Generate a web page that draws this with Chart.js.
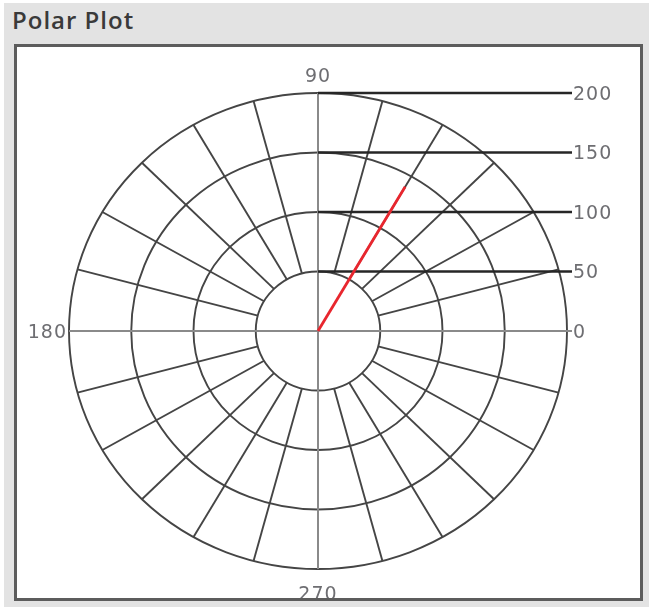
<!DOCTYPE html>
<html>
<head>
<meta charset="utf-8">
<script src="https://cdn.jsdelivr.net/npm/chart.js@4.4.1/dist/chart.umd.min.js"></script>
<style>
  html, body { margin: 0; padding: 0; background: #ffffff; }
  #panel {
    position: absolute; left: 4px; top: 3px; width: 645px; height: 604px;
    background: #e3e3e3;
  }
  #title {
    position: absolute; left: 8px; top: 0px;
    font: 600 24px "Open Sans", sans-serif; color: #3a3a3a; letter-spacing: 1px;
  }
  #box {
    position: absolute; left: 10px; top: 41px; width: 623px; height: 551px;
    background: #ffffff; border: 3px solid #5c5c5c; overflow: hidden;
  }
  #chart { position: absolute; left: -17px; top: -47px; }
</style>
</head>
<body>
<div id="panel">
  <div id="title">Polar Plot</div>
  <div id="box"><canvas id="chart" width="649" height="607"></canvas></div>
</div>
<script>
// series: angle in degrees, radius in data units
const seriesTheta = [60, 60];
const seriesR = [0, 140];

// grid and labels
const ringValues = [50, 100, 150, 200];
const ringLabels = ['50', '100', '150', '200'];
const spokeAngles = [15, 30, 45, 60, 75, 105, 120, 135, 150, 165,
  195, 210, 225, 240, 255, 285, 300, 315, 330, 345];
const angleLabels = ['0', '90', '180', '270'];
const rMax = 200;

const toRad = (d) => d * Math.PI / 180;
const seriesPoints = seriesR.map((r, i) => ({
  x: r * Math.cos(toRad(seriesTheta[i])),
  y: r * Math.sin(toRad(seriesTheta[i]))
}));

const polarGridPlugin = {
  id: 'polarGrid',
  beforeDatasetsDraw(chart) {
    const { ctx } = chart;
    const xs = chart.scales.x;
    const ys = chart.scales.y;
    const px = (r, a) => xs.getPixelForValue(r * Math.cos(toRad(a)));
    const py = (r, a) => ys.getPixelForValue(r * Math.sin(toRad(a)));
    const cx = xs.getPixelForValue(0);
    const cy = ys.getPixelForValue(0);

    ctx.save();

    // rings
    ctx.strokeStyle = '#454545';
    ctx.lineWidth = 1.9;
    ringValues.forEach((r) => {
      const rx = xs.getPixelForValue(r) - cx;
      const ry = cy - ys.getPixelForValue(r);
      ctx.beginPath();
      ctx.ellipse(cx, cy, rx, ry, 0, 0, Math.PI * 2);
      ctx.stroke();
    });

    // spokes from first ring outward
    spokeAngles.forEach((a) => {
      ctx.beginPath();
      ctx.moveTo(px(ringValues[0], a), py(ringValues[0], a));
      ctx.lineTo(px(rMax, a), py(rMax, a));
      ctx.stroke();
    });

    // main axes
    ctx.strokeStyle = '#8a8a8a';
    ctx.lineWidth = 2;
    ctx.beginPath();
    ctx.moveTo(xs.getPixelForValue(-rMax), cy);
    ctx.lineTo(xs.getPixelForValue(rMax) + 5, cy);
    ctx.moveTo(cx, ys.getPixelForValue(rMax));
    ctx.lineTo(cx, ys.getPixelForValue(-rMax));
    ctx.stroke();

    // radial tick leader lines
    const xEnd = xs.getPixelForValue(rMax) + 5;
    ctx.strokeStyle = '#262626';
    ctx.lineWidth = 2.3;
    ringValues.forEach((r) => {
      const y = ys.getPixelForValue(r);
      ctx.beginPath();
      ctx.moveTo(cx, y);
      ctx.lineTo(xEnd, y);
      ctx.stroke();
    });

    // text
    ctx.fillStyle = '#6e6e72';
    ctx.font = '19px "DejaVu Sans", sans-serif';
    ctx.letterSpacing = '1px';
    ctx.textBaseline = 'middle';
    ctx.textAlign = 'left';
    ringValues.forEach((r, i) => {
      ctx.fillText(ringLabels[i], xEnd + 1, ys.getPixelForValue(r) + 2);
    });
    ctx.fillText(angleLabels[0], xEnd + 1, cy + 2);
    ctx.textAlign = 'right';
    ctx.fillText(angleLabels[2], xs.getPixelForValue(-rMax) - 2, cy + 2);
    ctx.textAlign = 'center';
    ctx.textBaseline = 'bottom';
    ctx.fillText(angleLabels[1], cx, ys.getPixelForValue(rMax) - 6);
    ctx.textBaseline = 'top';
    ctx.fillText(angleLabels[3], cx, ys.getPixelForValue(-rMax) + 17);
    ctx.restore();
  }
};

new Chart(document.getElementById('chart'), {
  type: 'scatter',
  data: {
    datasets: [{
      data: seriesPoints,
      showLine: true,
      borderColor: '#e8262e',
      borderWidth: 2.8,
      pointRadius: 0
    }]
  },
  options: {
    responsive: false,
    animation: false,
    layout: { padding: { left: 69, right: 82, top: 93, bottom: 38 } },
    scales: {
      x: { type: 'linear', min: -rMax, max: rMax, display: false },
      y: { type: 'linear', min: -rMax, max: rMax, display: false }
    },
    plugins: { legend: { display: false }, tooltip: { enabled: false } }
  },
  plugins: [polarGridPlugin]
});
</script>
</body>
</html>
